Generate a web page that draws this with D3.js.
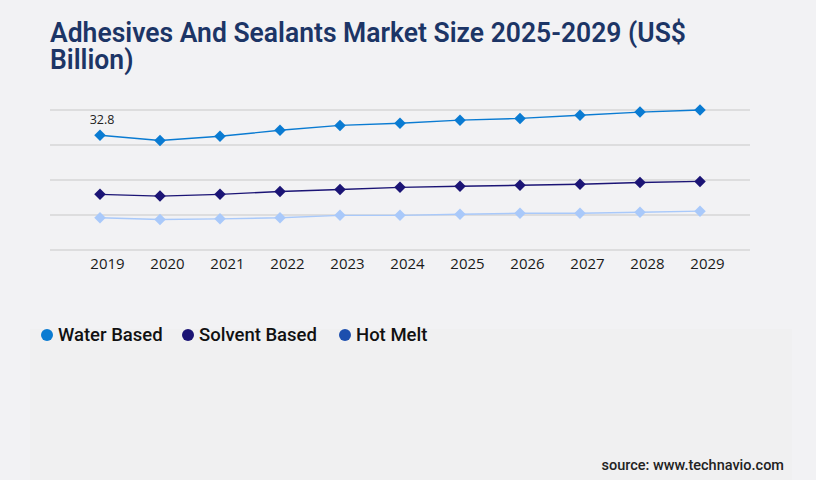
<!DOCTYPE html>
<html>
<head>
<meta charset="utf-8">
<script src="https://cdn.jsdelivr.net/npm/d3@7"></script>
<style>
  html, body { margin: 0; padding: 0; background: #f2f2f4; }
  svg { display: block; }
</style>
</head>
<body>
<div id="chart"></div>
<script>
(function() {

  var years = ["2019", "2020", "2021", "2022", "2023", "2024", "2025", "2026", "2027", "2028", "2029"];
  var waterBased = [32.8, 31.3, 32.5, 34.2, 35.6, 36.2, 37.1, 37.6, 38.5, 39.4, 40.0];
  var solventBased = [15.9, 15.4, 15.9, 16.7, 17.3, 17.9, 18.2, 18.5, 18.8, 19.3, 19.6];
  var hotMelt = [9.2, 8.7, 8.9, 9.2, 9.9, 9.9, 10.2, 10.5, 10.5, 10.8, 11.1];
  var yTicks = [0, 10, 20, 30, 40];

  var seriesNames = ["Water Based", "Solvent Based", "Hot Melt"];
  var lineColors = ["#0a7bd2", "#1b1475", "#a9c9fa"];
  var legendColors = ["#0a7bd2", "#1b1475", "#1d4fae"];
  var seriesData = [waterBased, solventBased, hotMelt];

  var W = 816, H = 480;

  var svg = d3.select("#chart").append("svg")
      .attr("width", W)
      .attr("height", H);

  svg.append("rect")
      .attr("width", W).attr("height", H)
      .attr("fill", "#f2f2f4");

  // lower panel (slightly different tone)
  svg.append("rect")
      .attr("x", 30).attr("y", 329)
      .attr("width", 762).attr("height", H - 329)
      .attr("fill", "#f0f0f1");

  // title, squeezed horizontally to match the condensed face
  var titleLines = ["Adhesives And Sealants Market Size 2025-2029 (US$", "Billion)"];
  var tg = svg.append("g");
  var t1 = tg.append("text")
      .attr("x", 0).attr("y", 42)
      .attr("font-family", "Roboto, sans-serif")
      .attr("font-weight", 600)
      .attr("font-size", 27)
      .attr("fill", "#1c3566")
      .text(titleLines[0]);
  tg.append("text")
      .attr("x", 0).attr("y", 69)
      .attr("font-family", "Roboto, sans-serif")
      .attr("font-weight", 600)
      .attr("font-size", 27)
      .attr("fill", "#1c3566")
      .text(titleLines[1]);
  var sx = 636 / t1.node().getComputedTextLength();
  tg.attr("transform", "translate(50,0) scale(" + sx + ",1)");

  var x = d3.scalePoint().domain(years).range([50, 750]).padding(0.8333);
  var y = d3.scaleLinear().domain([0, 40]).range([250, 110]);

  // grid
  svg.append("g").selectAll("line")
      .data(yTicks)
      .enter().append("line")
      .attr("x1", 50).attr("x2", 750)
      .attr("y1", function(d) { return y(d); })
      .attr("y2", function(d) { return y(d); })
      .attr("stroke", "#c8c8c8")
      .attr("stroke-width", 1);

  // x axis labels
  var xAxis = d3.axisBottom(x).tickSize(0).tickPadding(0);
  var gx = svg.append("g")
      .attr("transform", "translate(7," + 258 + ")")
      .call(xAxis);
  gx.select(".domain").remove();
  gx.selectAll("text")
      .attr("font-family", "'Open Sans', sans-serif")
      .attr("font-size", 15)
      .attr("fill", "#1a1a1a")
      .attr("dy", "0.71em");

  var line = d3.line()
      .x(function(d, i) { return x(years[i]); })
      .y(function(d) { return y(d); });

  var diamond = d3.symbol().type(d3.symbolDiamond2).size(85);

  for (var s = seriesData.length - 1; s >= 0; s--) {
    var g = svg.append("g");
    g.append("path")
        .datum(seriesData[s])
        .attr("d", line)
        .attr("fill", "none")
        .attr("stroke", lineColors[s])
        .attr("stroke-width", 1.4);
    g.selectAll("path.pt")
        .data(seriesData[s])
        .enter().append("path")
        .attr("class", "pt")
        .attr("d", diamond)
        .attr("transform", function(d, i) { return "translate(" + x(years[i]) + "," + y(d) + ")"; })
        .attr("fill", lineColors[s]);
  }

  // data label for first point
  svg.append("text")
      .attr("x", x(years[0]) + 2)
      .attr("y", y(waterBased[0]) - 11)
      .attr("text-anchor", "middle")
      .attr("font-family", "'Open Sans', sans-serif")
      .attr("font-size", 12.5)
      .attr("fill", "#222")
      .text(waterBased[0]);

  // legend
  var legendX = [47, 188, 345];
  var lg = svg.append("g").selectAll("g")
      .data(seriesNames)
      .enter().append("g")
      .attr("transform", function(d, i) { return "translate(" + legendX[i] + ",335)"; });
  lg.append("circle")
      .attr("r", 6)
      .attr("fill", function(d, i) { return legendColors[i]; });
  lg.append("text")
      .attr("x", 11)
      .attr("dy", "0.35em")
      .attr("font-family", "Roboto, sans-serif")
      .attr("font-weight", 500)
      .attr("font-size", 18.5)
      .attr("fill", "#111")
      .text(function(d) { return d; });

  // source
  svg.append("text")
      .attr("x", 784).attr("y", 470)
      .attr("text-anchor", "end")
      .attr("font-family", "Roboto, sans-serif")
      .attr("font-weight", 500)
      .attr("font-size", 14.5)
      .attr("fill", "#222")
      .text("source: www.technavio.com");

})();
</script>
</body>
</html>
